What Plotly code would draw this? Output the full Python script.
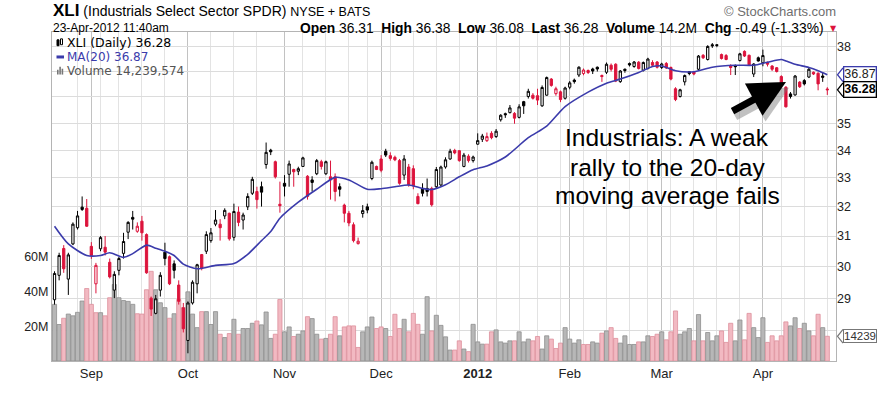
import math
import pandas as pd
import plotly.graph_objects as go

# ---------------- data ----------------
start_date = "2011-08-22"
end_date = "2012-04-23"
holidays = ["2011-09-05", "2011-11-24", "2011-12-26", "2012-01-02",
            "2012-01-16", "2012-02-20", "2012-04-06"]

opens = [28.95, 29.72, 30.59, 29.60, 30.74, 31.28, 31.98, 31.94, 30.66, 29.45,
         30.58, 30.63, 30.14, 29.25, 29.88, 30.43, 31.13, 31.63, 31.16, 31.50,
         31.05, 29.00, 28.53, 29.25, 30.47, 30.32, 30.09, 29.41, 28.70, 27.71,
         28.85, 29.45, 30.39, 30.50, 30.85, 31.40, 31.40, 31.68, 31.77, 30.96,
         31.81, 31.54, 31.99, 32.46, 32.52, 32.69, 33.48, 34.00, 33.58, 32.08,
         32.81, 33.13, 33.30, 33.24, 33.41, 33.06, 32.93, 33.15, 33.58, 33.15,
         33.04, 33.04, 32.69, 32.05, 31.77, 31.38, 30.75, 31.76, 31.99, 32.98,
         33.41, 33.68, 33.96, 33.80, 33.74, 33.62, 33.10, 33.39, 33.33, 32.35,
         32.63, 32.63, 32.63, 32.69, 32.75, 33.39, 33.68, 33.99, 33.98, 33.41,
         33.78, 33.62, 34.22, 34.40, 34.35, 34.62, 34.50, 35.13, 35.36, 35.40,
         35.37, 35.22, 35.82, 36.02, 36.07, 36.05, 35.66, 36.07, 36.70, 36.13,
         36.20, 35.95, 36.38, 36.66, 36.86, 36.92, 37.04, 37.10, 37.17, 36.84,
         36.97, 37.25, 37.29, 36.60, 37.09, 37.32, 37.20, 37.37, 37.05, 37.12,
         37.36, 37.38, 37.16, 37.32, 37.16, 36.32, 36.02, 36.59, 36.99, 36.98,
         37.09, 37.65, 37.48, 38.08, 38.08, 37.68, 37.64, 37.22, 37.24, 37.44,
         37.81, 37.65, 36.90, 37.55, 37.35, 37.36, 37.22, 37.15, 36.80, 36.38,
         36.12, 36.08, 36.58, 36.64, 36.78, 36.97, 36.93, 36.82, 36.31]

highs = [29.85, 30.45, 30.70, 30.45, 31.46, 31.85, 32.35, 32.26, 30.80, 30.12,
         31.00, 31.00, 30.26, 29.85, 30.32, 31.11, 31.50, 31.85, 31.46, 31.68,
         31.09, 29.05, 29.10, 29.82, 30.78, 30.36, 30.20, 29.56, 28.85, 28.90,
         29.56, 30.09, 30.41, 31.16, 31.27, 31.88, 31.57, 31.94, 31.79, 32.10,
         32.00, 31.79, 32.46, 33.04, 32.69, 32.87, 34.28, 34.05, 33.62, 32.87,
         33.10, 33.62, 33.33, 33.40, 33.76, 33.10, 33.06, 33.68, 33.65, 33.62,
         33.62, 33.16, 32.81, 32.10, 31.85, 31.46, 30.95, 32.05, 32.10, 33.62,
         33.44, 33.82, 34.05, 33.92, 33.80, 33.68, 33.82, 33.50, 33.45, 32.46,
         32.81, 32.98, 32.69, 33.39, 33.44, 33.74, 34.05, 34.05, 34.00, 33.90,
         33.85, 33.80, 34.62, 34.60, 34.65, 34.70, 34.78, 35.34, 35.40, 35.69,
         35.42, 35.72, 35.85, 36.32, 36.15, 36.32, 36.45, 36.80, 36.74, 36.40,
         36.25, 36.40, 36.62, 36.72, 37.21, 37.12, 37.08, 37.15, 37.20, 36.88,
         37.36, 37.32, 37.33, 37.06, 37.12, 37.36, 37.42, 37.42, 37.40, 37.55,
         37.45, 37.42, 37.35, 37.38, 37.20, 36.38, 36.32, 36.88, 37.02, 37.02,
         37.66, 37.70, 38.06, 38.15, 38.10, 37.72, 37.70, 37.29, 37.28, 37.75,
         37.85, 37.68, 37.33, 37.60, 37.88, 37.40, 37.25, 37.18, 36.85, 36.42,
         36.19, 36.86, 36.62, 36.70, 37.17, 37.00, 36.97, 36.98, 36.38]

lows = [28.80, 29.56, 29.80, 29.10, 30.70, 31.22, 31.85, 31.31, 30.25, 29.15,
        30.50, 30.36, 29.62, 29.00, 29.72, 30.26, 30.90, 31.22, 31.11, 30.85,
        29.77, 28.45, 28.50, 29.05, 30.04, 29.41, 29.62, 28.80, 27.95, 27.33,
        28.80, 29.15, 29.88, 30.41, 30.78, 31.33, 30.85, 31.57, 30.85, 30.85,
        31.33, 31.22, 31.88, 32.40, 31.93, 32.00, 33.33, 33.82, 32.98, 31.79,
        32.35, 32.69, 32.69, 33.10, 33.39, 32.24, 32.52, 33.10, 33.30, 33.10,
        32.24, 32.18, 32.35, 31.46, 31.33, 30.79, 30.72, 31.62, 31.77, 32.92,
        33.28, 33.20, 33.75, 33.62, 33.60, 32.76, 32.93, 32.69, 32.60, 32.08,
        32.35, 32.35, 32.00, 32.63, 32.70, 33.33, 33.65, 33.85, 33.58, 33.38,
        33.55, 33.55, 34.20, 34.30, 34.30, 34.40, 34.45, 35.06, 35.20, 35.37,
        34.98, 35.18, 35.35, 35.94, 35.90, 35.69, 35.62, 36.05, 36.40, 36.05,
        35.80, 35.90, 36.30, 36.52, 36.78, 36.85, 36.90, 36.90, 37.00, 36.59,
        36.90, 37.00, 36.58, 36.55, 36.95, 37.20, 37.15, 37.08, 37.00, 37.08,
        37.20, 37.12, 37.10, 37.10, 36.65, 35.84, 35.98, 36.45, 36.85, 36.85,
        37.05, 37.50, 37.44, 37.95, 37.98, 37.48, 37.45, 36.86, 36.86, 37.40,
        37.58, 37.24, 36.78, 37.40, 37.21, 37.20, 37.02, 36.96, 36.45, 35.60,
        35.94, 36.05, 36.35, 36.45, 36.74, 36.86, 36.26, 36.59, 36.08]

closes = [29.78, 30.36, 29.93, 30.38, 31.40, 31.68, 31.90, 31.33, 30.36, 30.04,
          30.95, 30.47, 29.67, 29.75, 30.26, 30.82, 31.46, 31.57, 31.33, 31.11,
          29.80, 28.66, 28.98, 29.72, 30.26, 29.45, 29.88, 28.90, 28.06, 28.85,
          29.50, 30.06, 29.94, 31.05, 31.11, 31.54, 31.28, 31.87, 30.91, 31.83,
          31.46, 31.71, 32.35, 32.95, 32.24, 32.50, 33.92, 33.94, 33.04, 32.03,
          32.71, 33.50, 33.22, 33.33, 33.72, 32.35, 32.84, 33.62, 33.41, 33.58,
          32.93, 32.52, 32.60, 31.77, 31.44, 30.85, 30.83, 31.86, 31.88, 33.56,
          33.30, 33.27, 33.82, 33.70, 33.65, 32.81, 33.68, 32.76, 32.72, 32.10,
          32.46, 32.52, 32.06, 33.30, 33.39, 33.65, 33.96, 33.90, 33.62, 33.82,
          33.62, 33.75, 34.35, 34.52, 34.50, 34.46, 34.70, 35.30, 35.32, 35.58,
          35.19, 35.62, 35.66, 36.22, 35.95, 35.88, 36.37, 36.76, 36.45, 36.32,
          35.90, 36.35, 36.55, 36.60, 37.17, 37.06, 36.96, 37.02, 37.10, 36.80,
          37.29, 37.09, 36.62, 37.02, 37.04, 37.26, 37.38, 37.12, 37.36, 37.50,
          37.25, 37.17, 37.30, 37.14, 36.70, 35.90, 36.28, 36.84, 36.92, 36.90,
          37.62, 37.55, 38.01, 38.04, 38.05, 37.52, 37.48, 37.16, 37.19, 37.71,
          37.62, 37.27, 37.30, 37.42, 37.64, 37.29, 37.09, 37.00, 36.52, 35.62,
          36.02, 36.82, 36.40, 36.51, 37.09, 36.90, 36.51, 36.77, 36.28]

volumes_m = [32.6, 21.0, 24.6, 27.0, 26.0, 28.0, 34.5, 41.7, 32.6, 27.8,
             27.8, 26.0, 36.4, 44.0, 36.4, 34.8, 34.3, 32.6, 27.2, 27.0,
             41.0, 51.6, 41.0, 33.5, 30.7, 24.6, 27.2, 35.4, 30.7, 39.8,
             27.0, 19.2, 28.4, 28.4, 21.0, 28.4, 15.4, 13.5, 15.8, 24.0,
             15.4, 18.7, 18.7, 21.7, 23.0, 20.8, 28.2, 13.0, 15.4, 35.4,
             16.8, 19.6, 14.1, 15.4, 17.3, 25.5, 24.4, 15.4, 12.6, 13.0,
             15.4, 25.5, 14.5, 19.6, 20.2, 20.2, 7.8, 16.8, 19.6, 25.3,
             18.7, 19.6, 18.7, 14.1, 26.9, 18.7, 24.0, 16.8, 27.4, 21.1,
             15.4, 37.0, 17.3, 26.3, 20.5, 13.9, 6.3, 6.3, 11.6, 6.9,
             5.4, 21.1, 11.0, 9.7, 9.7, 16.8, 17.9, 11.0, 10.3, 11.6,
             11.6, 16.8, 11.0, 12.6, 11.6, 14.1, 6.9, 14.5, 12.6, 7.2,
             10.3, 19.2, 12.6, 10.3, 12.2, 9.5, 9.5, 11.0, 10.3, 16.0,
             17.3, 19.2, 13.0, 10.3, 14.5, 9.5, 9.5, 11.0, 11.0, 14.5,
             14.1, 15.4, 16.8, 12.2, 16.8, 28.8, 15.4, 16.8, 18.7, 11.6,
             26.7, 11.6, 16.4, 11.6, 14.5, 17.3, 10.7, 21.7, 11.6, 23.6,
             12.2, 27.4, 19.2, 13.5, 24.9, 10.7, 14.5, 11.6, 14.5, 22.5,
             20.2, 24.9, 18.7, 21.7, 17.3, 14.5, 26.9, 19.2, 14.239574]

# 20-day moving average at these trading-day positions
ma_days = [0, 3, 7, 10, 12, 15, 17, 20, 22, 24, 26, 28, 31, 35, 39, 42, 45, 47,
           49, 53, 57, 61, 64, 68, 71, 74, 77, 80, 82, 85, 88, 91, 94, 98, 103,
           107, 111, 116, 120, 123, 127, 130, 132, 135, 139, 143, 148, 152, 155,
           158, 159, 161, 164, 166, 168]
ma_values = [31.33, 30.74, 30.36, 30.36, 30.45, 30.30, 30.42, 30.70, 30.60, 30.50,
             30.36, 30.08, 29.93, 30.04, 30.10, 30.40, 30.85, 31.15, 31.60, 32.15,
             32.60, 33.02, 32.93, 32.60, 32.62, 32.69, 32.75, 32.63, 32.59, 32.76,
             33.04, 33.29, 33.43, 33.75, 34.46, 34.89, 35.63, 36.19, 36.54, 36.70,
             36.96, 37.20, 37.22, 37.03, 36.99, 37.17, 37.25, 37.25, 37.37, 37.48,
             37.42, 37.29, 37.16, 37.03, 36.87]

price_ticks = [28, 29, 30, 31, 32, 33, 34, 35, 36, 37, 38]
price_tick_labels = ["", "29", "30", "31", "32", "33", "34", "35", "", "", "38"]
volume_ticks = [20, 40, 60]
volume_tick_labels = ["20M", "40M", "60M"]
last_volume_shares = 14239574

# ---------------- derived ----------------
dates = [d for d in pd.bdate_range(start_date, end_date)
         if d.strftime("%Y-%m-%d") not in holidays]
n = len(closes)
idx = list(range(n))

month_idx, month_txt = [], []
week_idx = []
for i, d in enumerate(dates):
    if i > 0 and d.month != dates[i - 1].month:
        month_idx.append(i)
        month_txt.append("<b>2012</b>" if d.month == 1 else d.strftime("%b"))
    if i > 0 and d.isocalendar()[1] != dates[i - 1].isocalendar()[1]:
        week_idx.append(i)
week_idx = [w for w in week_idx if all(abs(w - m) > 1 for m in month_idx)]

up = [i == 0 or closes[i] >= closes[i - 1] for i in idx]

# ---------------- geometry of the frame (pixels) ----------------
W, H = 893, 393
PL, PR, PT, PB = 52, 836, 32, 368
P_TOP, P_BOT = 38.605, 27.105
V_TOP = (PB - PT) / 1.775


def px(x):
    return (x - PL) / (PR - PL)


def py(y):
    return (PB - y) / (PB - PT)


def price_to_py(p):
    lt, lb = math.log10(P_TOP), math.log10(P_BOT)
    return PT + (lt - math.log10(p)) / (lt - lb) * (PB - PT)


RED = "#dc143c"
BLUE = "#3b3bab"
FONT = "Liberation Sans"

fig = go.Figure()

# volume bars
fig.add_trace(go.Bar(
    x=idx, y=volumes_m, yaxis="y", width=0.9,
    marker=dict(color=["#b7b7b7" if u else "#f2b9c2" for u in up],
                line=dict(color=["#8e8e8e" if u else "#dd8f9c" for u in up], width=0.8)),
    hoverinfo="skip", showlegend=False))

last = n - 1

# candles: black (close up vs previous close) and red (down)
for flag, col in ((True, "#000000"), (False, RED)):
    sel = [i for i in idx if up[i] == flag]
    fig.add_trace(go.Candlestick(
        x=sel, open=[opens[i] for i in sel], high=[highs[i] for i in sel],
        low=[lows[i] for i in sel], close=[closes[i] for i in sel],
        yaxis="y2", whiskerwidth=0,
        increasing=dict(line=dict(color=col, width=1), fillcolor="#ffffff"),
        decreasing=dict(line=dict(color=col, width=1), fillcolor=col),
        hoverinfo="skip", showlegend=False))

# moving average
fig.add_trace(go.Scatter(
    x=ma_days, y=ma_values, yaxis="y2", mode="lines",
    line=dict(color=BLUE, width=1.6, shape="spline", smoothing=0.7),
    hoverinfo="skip", showlegend=False))

shapes = [
    dict(type="rect", xref="x", yref="y2", layer="below",
         x0=last - 0.75, x1=last + 0.85,
         y0=math.log10(lows[last] - 0.06), y1=math.log10(highs[last] + 0.08),
         fillcolor="#ffff55", line=dict(width=0)),
]
# legend icons
shapes += [
    dict(type="rect", xref="paper", yref="paper", x0=px(57), x1=px(59), y0=py(46), y1=py(40),
         fillcolor="#000", line=dict(color="#000", width=1)),
    dict(type="rect", xref="paper", yref="paper", x0=px(60.5), x1=px(62.5), y0=py(45), y1=py(39),
         fillcolor="#fff", line=dict(color="#000", width=1)),
    dict(type="line", xref="paper", yref="paper", x0=px(56.5), x1=px(64), y0=py(57.5), y1=py(57.5),
         line=dict(color=BLUE, width=3)),
]
for k, hgt in enumerate([5, 8, 6]):
    shapes.append(dict(type="rect", xref="paper", yref="paper",
                       x0=px(57 + 2.3 * k), x1=px(58.6 + 2.3 * k), y0=py(75.5), y1=py(75.5 - hgt),
                       fillcolor="#777", line=dict(width=0)))
# pointers of the right-hand value tags
for val, col in ((ma_values[-1], BLUE), (closes[-1], "#000")):
    yy = price_to_py(val)
    shapes.append(dict(type="path", xref="paper", yref="paper",
                       path=f"M {px(843)},{py(yy - 7)} L {px(837.5)},{py(yy)} L {px(843)},{py(yy + 7)}",
                       line=dict(color=col, width=1.3)))
yv = PB - volumes_m[-1] * 1.775
shapes.append(dict(type="path", xref="paper", yref="paper",
                   path=f"M {px(843)},{py(yv - 7)} L {px(837.5)},{py(yv)} L {px(843)},{py(yv + 7)}",
                   line=dict(color="#777", width=1.2)))

chg = closes[-1] - closes[-2]
pct = chg / closes[-2] * 100

ann = []
ann.append(dict(xref="paper", yref="paper", x=px(51), y=py(10.5), xanchor="left", yanchor="middle",
                text="<span style='font-size:17px'><b>XLI</b></span> (Industrials Select Sector SPDR) "
                     "<span style='font-size:12.5px'>NYSE + BATS</span>",
                font=dict(family=FONT, size=14, color="#000"), showarrow=False))
ann.append(dict(xref="paper", yref="paper", x=px(51), y=py(28), xanchor="left", yanchor="middle",
                text="23-Apr-2012 11:40am", font=dict(family=FONT, size=12, color="#000"),
                showarrow=False))
ann.append(dict(xref="paper", yref="paper", x=px(826), y=py(28), xanchor="right", yanchor="middle",
                text=(f"<b>Open</b> {opens[-1]:.2f}  <b>High</b> {highs[-1]:.2f}  "
                      f"<b>Low</b> {lows[-1]:.2f}  <b>Last</b> {closes[-1]:.2f}  "
                      f"<b>Volume</b> {last_volume_shares / 1e6:.1f}M  "
                      f"<b>Chg</b> {chg:.2f} ({pct:.2f}%)"),
                font=dict(family=FONT, size=13.8, color="#000"), showarrow=False))
ann.append(dict(xref="paper", yref="paper", x=px(833), y=py(28), xanchor="center", yanchor="middle",
                text="▼", font=dict(family="DejaVu Sans", size=8, color=RED), showarrow=False))
ann.append(dict(xref="paper", yref="paper", x=px(838), y=py(11), xanchor="right", yanchor="middle",
                text="© StockCharts.com", font=dict(family=FONT, size=13, color="#6e6e6e"),
                showarrow=False))
# legend text
ann.append(dict(xref="paper", yref="paper", x=px(65), y=py(43), xanchor="left", yanchor="middle",
                text=f"XLI (Daily) {closes[-1]:.2f}", font=dict(family="DejaVu Sans", size=12.5, color="#000"),
                showarrow=False))
ann.append(dict(xref="paper", yref="paper", x=px(65), y=py(57.5), xanchor="left", yanchor="middle",
                text=f"MA(20) {ma_values[-1]:.2f}", font=dict(family="DejaVu Sans", size=12, color=BLUE),
                showarrow=False))
ann.append(dict(xref="paper", yref="paper", x=px(65), y=py(71.5), xanchor="left", yanchor="middle",
                text=f"Volume {last_volume_shares:,}", font=dict(family="DejaVu Sans", size=12, color="#555"),
                showarrow=False))
# value tags on the right
ann.append(dict(xref="paper", yref="y2", x=px(843), y=math.log10(ma_values[-1]), xanchor="left",
                yanchor="middle", text=f"{ma_values[-1]:.2f}", font=dict(family=FONT, size=12.5, color="#222"),
                bgcolor="#fff", bordercolor=BLUE, borderwidth=1.3, borderpad=0, showarrow=False))
ann.append(dict(xref="paper", yref="y2", x=px(843), y=math.log10(closes[-1]), xanchor="left",
                yanchor="middle", text=f"<b>{closes[-1]:.2f}</b>", font=dict(family=FONT, size=12.5, color="#000"),
                bgcolor="#fff", bordercolor="#000", borderwidth=1.3, borderpad=0, showarrow=False))
ann.append(dict(xref="paper", yref="y", x=px(843), y=volumes_m[-1], xanchor="left",
                yanchor="middle", text=f"{last_volume_shares // 1000}", font=dict(family=FONT, size=11.5, color="#333"),
                bgcolor="#fff", bordercolor="#777", borderwidth=1, borderpad=0, showarrow=False))
# commentary
for txt, yc in (("Industrials: A weak", 140), ("rally to the 20-day", 170), ("moving average fails", 199)):
    ann.append(dict(xref="paper", yref="paper", x=px(667), y=py(yc), xanchor="center", yanchor="middle",
                    text=txt, font=dict(family=FONT, size=24.5, color="#000"), showarrow=False))
# arrow (shadow + arrow)
ann.append(dict(xref="paper", yref="paper", x=px(789), y=py(89), ax=-55, ay=30, text="",
                showarrow=True, arrowhead=2, arrowsize=1.05, arrowwidth=7, arrowcolor="rgba(120,120,120,0.45)"))
ann.append(dict(xref="paper", yref="paper", x=px(786), y=py(83), ax=-55, ay=30, text="",
                showarrow=True, arrowhead=2, arrowsize=1.05, arrowwidth=7, arrowcolor="#000"))

fig.update_layout(
    width=W, height=H, autosize=False,
    margin=dict(l=PL, r=W - PR, t=PT, b=H - PB, pad=0),
    paper_bgcolor="#ffffff", plot_bgcolor="#ffffff",
    showlegend=False, bargap=0,
    font=dict(family=FONT, size=12.5, color="#222"),
    xaxis=dict(range=[-0.55, (PR - 54.5) / 4.6], tickmode="array", tickvals=month_idx, ticktext=month_txt,
               showgrid=True, gridcolor="#c2c2c2", gridwidth=1, zeroline=False,
               showline=True, linecolor="#b4b4b4", mirror=True, ticks="",
               tickfont=dict(family=FONT, size=13, color="#222"),
               minor=dict(tickmode="array", tickvals=week_idx, showgrid=True, gridcolor="#e3e3e3", ticks=""),
               rangeslider=dict(visible=False), fixedrange=True),
    yaxis=dict(range=[0, V_TOP], tickmode="array", tickvals=volume_ticks, ticktext=volume_tick_labels,
               showgrid=False, zeroline=False, side="left", showline=True, linecolor="#b4b4b4",
               mirror=True, ticks="", tickfont=dict(family=FONT, size=12.5, color="#222"), fixedrange=True),
    yaxis2=dict(type="log", range=[math.log10(P_BOT), math.log10(P_TOP)], overlaying="y", side="right",
                tickmode="array", tickvals=price_ticks, ticktext=price_tick_labels,
                showgrid=True, gridcolor="#dcdcdc", zeroline=False, showline=False, ticks="",
                tickfont=dict(family=FONT, size=12.5, color="#222"), fixedrange=True),
    shapes=shapes, annotations=ann,
)

fig.write_html("out.html", config={"displayModeBar": False, "staticPlot": True})

# remove the browser's default page margin so the figure sits at the window's top-left corner
with open("out.html", "r", encoding="utf-8") as f:
    html = f.read()
html = html.replace("<head>", "<head><style>html,body{margin:0;padding:0;overflow:hidden;}</style>", 1)
with open("out.html", "w", encoding="utf-8") as f:
    f.write(html)
